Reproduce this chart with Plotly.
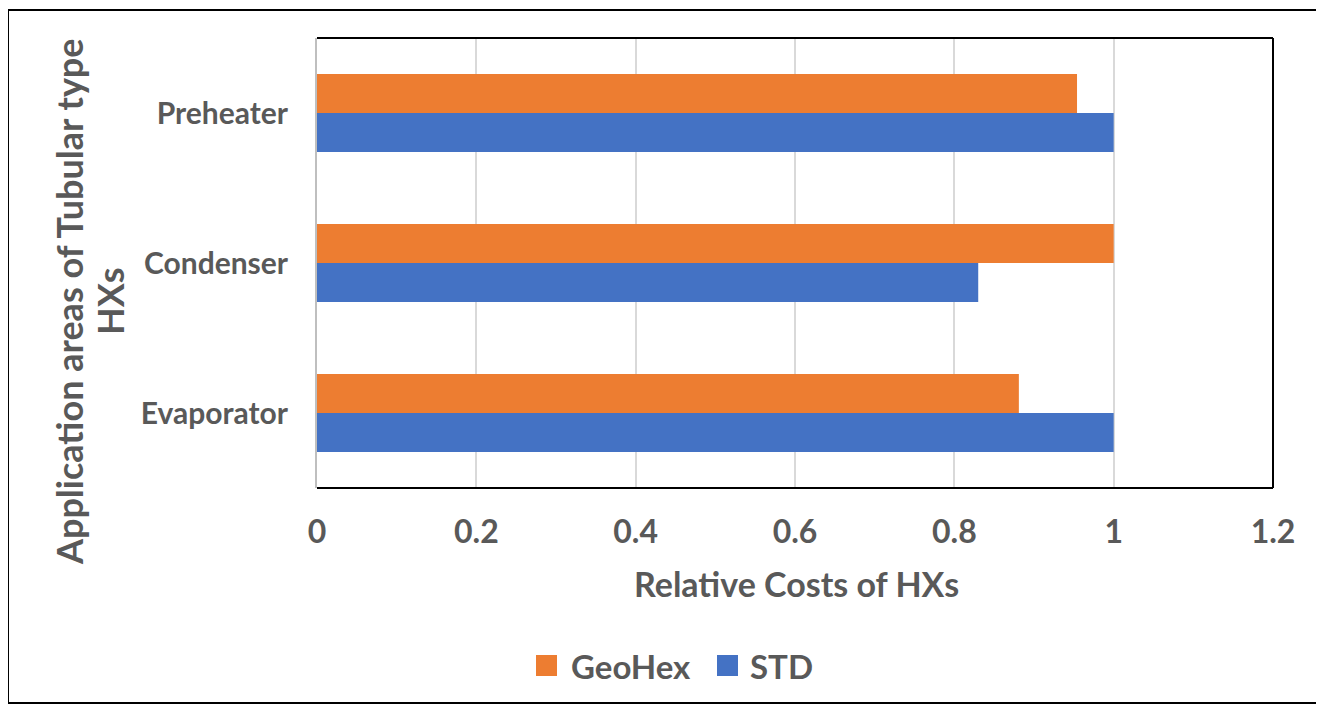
import plotly.graph_objects as go

categories = ["Evaporator", "Condenser", "Preheater"]
geohex = [0.881, 1.0, 0.954]
std = [1.0, 0.830, 1.0]
x_ticks = [0, 0.2, 0.4, 0.6, 0.8, 1.0, 1.2]
x_tick_labels = ["0", "0.2", "0.4", "0.6", "0.8", "1", "1.2"]
series_names = ["GeoHex", "STD"]
series_colors = ["#ED7D31", "#4472C4"]
y_title_lines = ["Application areas of Tubular type", "HXs"]

FONT = "Lato"
GRAY = "#595959"
O = 8  # page body offset

fig = go.Figure()
fig.add_trace(go.Bar(y=categories, x=std, name=series_names[1], orientation="h",
                     marker=dict(color=series_colors[1], line=dict(width=0)), showlegend=False))
fig.add_trace(go.Bar(y=categories, x=geohex, name=series_names[0], orientation="h",
                     marker=dict(color=series_colors[0], line=dict(width=0)), showlegend=False))

W, H = 1324 - O, 705 - O
L, R, T, B = 317 - O, 1273 - O, 38 - O, 488 - O
pw, ph = R - L, B - T

def px(x):
    return (x - O - L) / pw

def py(y):
    return (B - (y - O)) / ph

fig.update_layout(
    width=W, height=H,
    margin=dict(l=L, r=W - R, t=T, b=H - B),
    paper_bgcolor="white", plot_bgcolor="white",
    barmode="group", bargap=0.48, bargroupgap=0,
    font=dict(family=FONT, color=GRAY),
    showlegend=False,
    xaxis=dict(range=[0, 1.2], tickvals=x_ticks, ticktext=x_tick_labels,
               showgrid=True, gridcolor="#d9d9d9", gridwidth=1.5,
               zeroline=False, showline=False, ticks="",
               ticklabelstandoff=22,
               tickfont=dict(size=32, family=FONT, color=GRAY, weight="bold")),
    yaxis=dict(showgrid=False, zeroline=False, showline=True, linecolor="#bfbfbf", linewidth=2,
               ticks="", ticklabelstandoff=21,
               tickfont=dict(size=30, family=FONT, color=GRAY, weight="bold")),
)

# plot frame (top, right, bottom)
for (x0, y0, x1, y1) in [(0, 1, 1, 1), (1, 0, 1, 1), (0, 0, 1, 0)]:
    fig.add_shape(type="line", xref="paper", yref="paper", x0=x0, y0=y0, x1=x1, y1=y1,
                  line=dict(color="black", width=2))

# outer chart border
fig.add_shape(type="rect", xref="paper", yref="paper",
              x0=px(8), x1=px(1321), y0=py(10), y1=py(703),
              line=dict(color="black", width=2), fillcolor="rgba(0,0,0,0)")

fig.add_annotation(text="Relative Costs of HXs", xref="paper", yref="paper",
                   x=px(796), y=py(583), xanchor="center", yanchor="middle",
                   showarrow=False, font=dict(size=34, family=FONT, color=GRAY, weight="bold"))
for line_text, lx in zip(y_title_lines, [69, 110]):
    fig.add_annotation(text=line_text, xref="paper", yref="paper",
                       x=px(lx), y=py(302), xanchor="center", yanchor="middle", textangle=-90,
                       showarrow=False, align="center",
                       font=dict(size=36, family=FONT, color=GRAY, weight="bold"))

# legend (drawn manually for large square keys)
legend_sq = [(536, 557), (717, 738)]
legend_tx = [569, 748]
for name, color, (sx0, sx1), tx in zip(series_names, series_colors, legend_sq, legend_tx):
    fig.add_shape(type="rect", xref="paper", yref="paper",
                  x0=px(sx0), x1=px(sx1), y0=py(655), y1=py(676),
                  line=dict(width=0), fillcolor=color)
    fig.add_annotation(text=name, xref="paper", yref="paper", x=px(tx), y=py(666),
                       xanchor="left", yanchor="middle", showarrow=False,
                       font=dict(size=33, family=FONT, color=GRAY, weight="bold"))

fig.write_html("out.html")
